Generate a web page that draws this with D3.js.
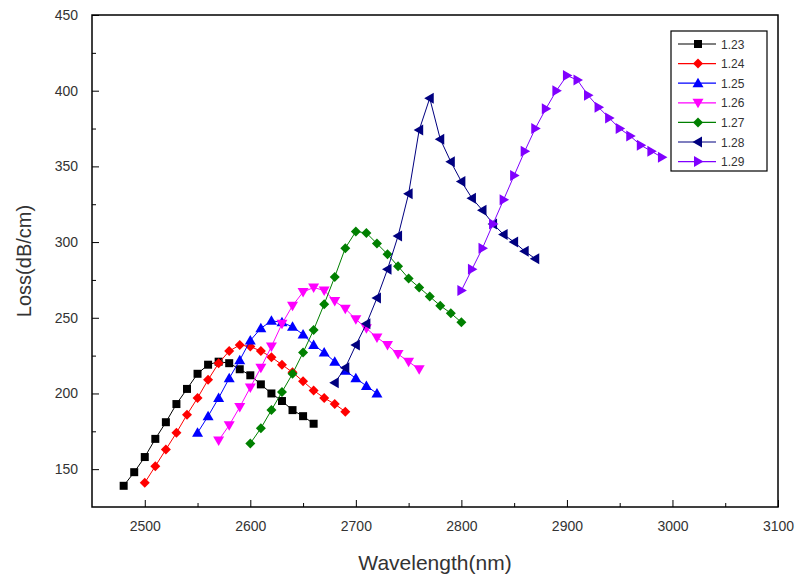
<!DOCTYPE html>
<html>
<head>
<meta charset="utf-8">
<script src="https://cdn.jsdelivr.net/npm/d3@7"></script>
<style>
  body { margin: 0; background: #fff; }
  text { font-family: "Liberation Sans", Arial, sans-serif; }
</style>
</head>
<body>
<div id="chart"></div>
<script>
// series labels (legend) and their start wavelength, 10 nm step
const seriesNames = ["1.23", "1.24", "1.25", "1.26", "1.27", "1.28", "1.29"];
const startWl = [2480, 2500, 2550, 2570, 2600, 2680, 2800];
const stepWl = 10;

const loss123 = [139, 148, 158, 170, 181, 193, 203, 213, 219, 221, 220, 216, 212, 206, 200, 195, 189, 185, 180];
const loss124 = [141, 152, 163, 174, 186, 197, 209, 220, 228, 232, 231, 228, 224, 219, 214, 208, 202, 197, 193, 188];
const loss125 = [174, 185, 197, 210, 222, 235, 243, 248, 247, 244, 239, 232, 227, 221, 215, 210, 205, 200];
const loss126 = [169, 179, 191, 204, 217, 231, 246, 258, 267, 270, 268, 261, 256, 249, 243, 237, 232, 226, 221, 216];
const loss127 = [167, 177, 189, 201, 213, 227, 242, 259, 277, 296, 307, 306, 299, 292, 284, 276, 270, 264, 258, 253, 247];
const loss128 = [207, 217, 232, 246, 263, 282, 304, 332, 374, 395, 368, 353, 340, 329, 321, 312, 305, 300, 294, 289];
const loss129 = [268, 282, 296, 312, 328, 344, 360, 375, 388, 400, 410, 407, 397, 389, 382, 375, 370, 364, 360, 356];
const allLoss = [loss123, loss124, loss125, loss126, loss127, loss128, loss129];

const xTicks = [2500, 2600, 2700, 2800, 2900, 3000, 3100];
const yTicks = [150, 200, 250, 300, 350, 400, 450];

const colors = ["#000000", "#ff0000", "#0000ff", "#ff00ff", "#008000", "#000080", "#8000ff"];
const shapes = ["square", "diamond", "up", "down", "diamond", "left", "right"];

const width = 799, height = 580;
const plotLeft = 92, plotRight = 778, plotTop = 15, plotBottom = 507;

const svg = d3.select("#chart").append("svg")
    .attr("width", width)
    .attr("height", height);

const x = d3.scaleLinear().domain([2450, 3100]).range([plotLeft, plotRight]);
const y = d3.scaleLinear().domain([125, 450]).range([plotBottom, plotTop]);

// build point lists
const series = allLoss.map((vals, i) => ({
    name: seriesNames[i],
    color: colors[i],
    shape: shapes[i],
    points: vals.map((v, j) => ({ wl: startWl[i] + j * stepWl, loss: v }))
}));

function markerPath(shape) {
    if (shape === "square") return "M-4,-4H4V4H-4Z";
    if (shape === "diamond") return "M0,-5L5,0L0,5L-5,0Z";
    if (shape === "up") return "M0,-5.5L5.5,4L-5.5,4Z";
    if (shape === "down") return "M0,5.5L5.5,-4L-5.5,-4Z";
    if (shape === "left") return "M-5.5,0L4,-5.5L4,5.5Z";
    return "M5.5,0L-4,-5.5L-4,5.5Z";
}

// axes (ticks inside)
const xMinor = d3.range(2500, 3100, 50).filter(v => v % 100 !== 0);
const yMinor = d3.range(175, 450, 50);

svg.append("g")
    .attr("transform", `translate(0,${plotBottom})`)
    .call(d3.axisBottom(x).tickValues(xMinor).tickSize(-4).tickFormat(""))
    .call(g => g.select(".domain").remove());
svg.append("g")
    .attr("transform", `translate(0,${plotBottom})`)
    .call(d3.axisBottom(x).tickValues(xTicks).tickSize(-7).tickPadding(14).tickFormat(d3.format("d")))
    .call(g => g.select(".domain").remove())
    .call(g => g.selectAll("text").attr("font-size", 14).attr("fill", "#333"));

svg.append("g")
    .attr("transform", `translate(${plotLeft},0)`)
    .call(d3.axisLeft(y).tickValues(yMinor).tickSize(-4).tickFormat(""))
    .call(g => g.select(".domain").remove());
svg.append("g")
    .attr("transform", `translate(${plotLeft},0)`)
    .call(d3.axisLeft(y).tickValues(yTicks).tickSize(-7).tickPadding(14))
    .call(g => g.select(".domain").remove())
    .call(g => g.selectAll("text").attr("font-size", 14).attr("fill", "#333"));

// frame
svg.append("rect")
    .attr("x", plotLeft).attr("y", plotTop)
    .attr("width", plotRight - plotLeft).attr("height", plotBottom - plotTop)
    .attr("fill", "none").attr("stroke", "#000").attr("stroke-width", 1.5);

// lines + markers
const line = d3.line().x(d => x(d.wl)).y(d => y(d.loss));

series.forEach(s => {
    const g = svg.append("g");
    g.append("path")
        .attr("d", line(s.points))
        .attr("fill", "none")
        .attr("stroke", s.color)
        .attr("stroke-width", 1);
    g.selectAll("path.mk")
        .data(s.points)
        .enter()
        .append("path")
        .attr("class", "mk")
        .attr("d", markerPath(s.shape))
        .attr("transform", d => `translate(${x(d.wl)},${y(d.loss)})`)
        .attr("fill", s.color);
});

// legend
const legend = svg.append("g");
legend.append("rect")
    .attr("x", 671).attr("y", 31)
    .attr("width", 96).attr("height", 140)
    .attr("fill", "#fff").attr("stroke", "#000").attr("stroke-width", 1.2);

series.forEach((s, i) => {
    const ly = 44 + i * 19.6;
    legend.append("line")
        .attr("x1", 678).attr("x2", 716)
        .attr("y1", ly).attr("y2", ly)
        .attr("stroke", s.color).attr("stroke-width", 1.2);
    legend.append("path")
        .attr("d", markerPath(s.shape))
        .attr("transform", `translate(698,${ly})`)
        .attr("fill", s.color);
    legend.append("text")
        .attr("x", 721).attr("y", ly + 4.5)
        .attr("font-size", 12)
        .attr("fill", "#333")
        .text(s.name);
});

// axis titles
svg.append("text")
    .attr("x", (plotLeft + plotRight) / 2)
    .attr("y", 570)
    .attr("text-anchor", "middle")
    .attr("font-size", 21)
    .attr("fill", "#333")
    .text("Wavelength(nm)");

svg.append("text")
    .attr("transform", `translate(31,${(plotTop + plotBottom) / 2}) rotate(-90)`)
    .attr("text-anchor", "middle")
    .attr("font-size", 20)
    .attr("fill", "#333")
    .text("Loss(dB/cm)");
</script>
</body>
</html>
